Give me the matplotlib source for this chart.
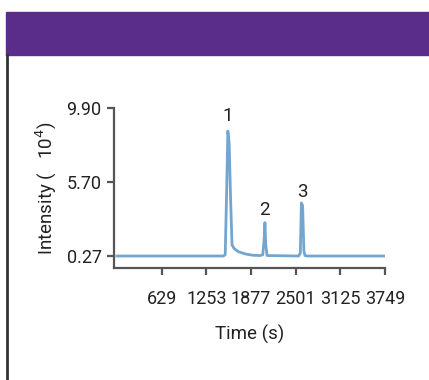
import numpy as np
import matplotlib
matplotlib.use("Agg")
from matplotlib import pyplot
from matplotlib.patches import Rectangle

# chromatogram trace
time_s = [0, 1490, 1515, 1535, 1552, 1570, 1590, 1610, 1640, 1700, 1800,
          1900, 2000, 2040, 2060, 2070, 2082, 2100, 2540, 2565, 2580,
          2597, 2615, 2630, 2660, 3749]
intensity = [0.27, 0.27, 0.35, 4.5, 8.40, 7.6, 4.0, 1.0, 0.75, 0.55, 0.40,
             0.32, 0.30, 0.35, 1.4, 2.44, 1.0, 0.30, 0.27, 0.45, 3.72,
             3.55, 0.6, 0.30, 0.27, 0.27]

peak_names = ["1", "2", "3"]
peak_time = [1552, 2070, 2597]
peak_label_y = [9.35, 3.25, 4.45]

x_ticks = [629, 1253, 1877, 2501, 3125, 3749]
y_tick_labels = ["0.27", "5.70", "9.90"]

pyplot.rcParams["font.family"] = ["Roboto", "DejaVu Sans"]
fs = 13

fig = pyplot.figure(figsize=(4.29, 3.80), dpi=100)

# purple header band and left border of the panel
fig.patches.append(Rectangle((6 / 429, 1 - 55 / 380), 1, 43 / 380,
                             transform=fig.transFigure, color="#5b2d8a", zorder=0))
fig.add_artist(pyplot.Line2D([7 / 429, 7 / 429], [0, 1 - 55 / 380],
                             transform=fig.transFigure, color="#333333", lw=2))

ax = fig.add_axes([114 / 429, 1 - 268 / 380, (385 - 114) / 429, (268 - 108) / 380])
ax.plot(time_s, intensity, color="#5b95c9", lw=2.0, alpha=0.85)

for name, t, ly in zip(peak_names, peak_time, peak_label_y):
    ax.text(t, ly, name, ha="center", va="center", fontsize=fs + 0.5, color="#222222")

ax.set_xlim(-40, 3749)
ax.set_ylim(-0.51, 9.90)
ax.set_xticks(x_ticks)
# tick marks are evenly spaced in the original
ax.set_yticks([0.27, 5.085, 9.90])
ax.set_yticklabels(y_tick_labels)

for side in ["top", "right"]:
    ax.spines[side].set_visible(False)
for side in ["left", "bottom"]:
    ax.spines[side].set_color("#555555")
    ax.spines[side].set_linewidth(1.6)
ax.tick_params(axis="both", colors="#555555", width=1.6, length=5, labelsize=fs,
               labelcolor="#222222", pad=4)
ax.tick_params(axis="x", pad=11)

ax.set_xlabel("Time (s)", fontsize=fs + 0.5, color="#222222", labelpad=12)
ax.set_ylabel("Intensity (   10$^4$)", fontsize=fs + 0.5, color="#222222", labelpad=5)

fig.savefig("out.png", dpi=100)
